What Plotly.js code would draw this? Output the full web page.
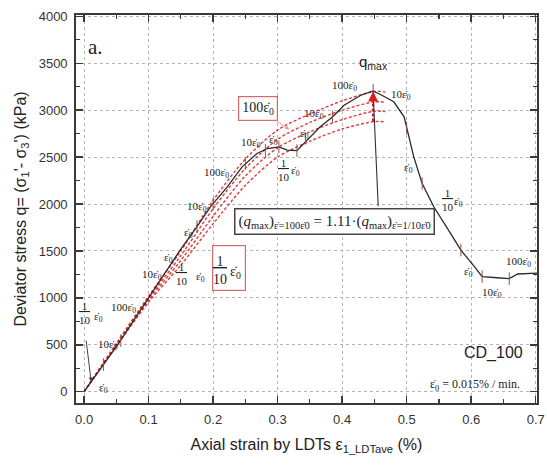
<!DOCTYPE html>
<html>
<head>
<meta charset="utf-8">
<script src="https://cdn.plot.ly/plotly-3.0.1.min.js"></script>
<style>html,body{margin:0;padding:0;background:#fff;}#chart{width:547px;height:468px;}</style>
</head>
<body>
<div id="chart"></div>
<script>
// Measured curve (black)
const strainMain = [0, 0.01, 0.03, 0.052, 0.1, 0.148, 0.175, 0.197, 0.222, 0.245, 0.268, 0.284, 0.302, 0.315, 0.33, 0.346, 0.366, 0.385, 0.403, 0.429, 0.448, 0.46, 0.48, 0.496, 0.501, 0.511, 0.524, 0.542, 0.568, 0.584, 0.605, 0.617, 0.64, 0.659, 0.672, 0.685, 0.703];
const stressMain = [0, 96, 290, 500, 1000, 1500, 1760, 1980, 2184, 2397, 2539, 2592, 2610, 2574, 2570, 2681, 2823, 2929, 3053, 3160, 3205, 3165, 3090, 2930, 2790, 2503, 2220, 1971, 1688, 1510, 1333, 1227, 1215, 1205, 1255, 1262, 1265];
// Rate-change marks on the measured curve
const strainMarks = [0.03, 0.057, 0.175, 0.2, 0.25, 0.281, 0.302, 0.33, 0.343, 0.385, 0.448, 0.5, 0.524, 0.584, 0.617, 0.659];
const stressMarks = [290, 545, 1760, 2000, 2430, 2574, 2610, 2570, 2700, 2929, 3215, 2810, 2220, 1510, 1227, 1205];
// Estimated curves for each strain rate (red dashed)
const strainRed = [0, 0.05, 0.1, 0.15, 0.2, 0.25, 0.3, 0.35, 0.4, 0.45, 0.467];
const stress100 = [0, 515, 1020, 1500, 2040, 2480, 2790, 2960, 3100, 3200, 3195];
const stress10  = [0, 505, 995, 1450, 1950, 2380, 2690, 2870, 3000, 3090, 3085];
const stress1   = [0, 495, 975, 1400, 1870, 2300, 2600, 2770, 2900, 2990, 2985];
const stress01  = [0, 485, 955, 1350, 1790, 2200, 2500, 2670, 2800, 2880, 2875];
// qmax comparison arrow
const qmaxStrain = [0.448, 0.448];
const qmaxRange = [2880, 3170];

const ed = '\u03b5\u0307<sub>0</sub>';
const frac = '<span style="text-decoration:underline">\u00a01\u00a0</span><br>10';
const serif = 'Liberation Serif, Times New Roman, serif';
const sans = 'Liberation Sans, Arial, sans-serif';

const redStyle = {color: 'rgba(220,40,40,0.9)', width: 1.4, dash: '3px,2px', shape: 'spline', smoothing: 0.8};
const traces = [
  {x: strainRed, y: stress100, mode: 'lines', line: redStyle, hoverinfo: 'skip'},
  {x: strainRed, y: stress10, mode: 'lines', line: redStyle, hoverinfo: 'skip'},
  {x: strainRed, y: stress1, mode: 'lines', line: redStyle, hoverinfo: 'skip'},
  {x: strainRed, y: stress01, mode: 'lines', line: redStyle, hoverinfo: 'skip'},
  {x: strainMain, y: stressMain, mode: 'lines', line: {color: '#2a2a2a', width: 1.3}, hoverinfo: 'skip'},
  {x: strainMarks, y: stressMarks, mode: 'markers', marker: {symbol: 'line-ns-open', size: 9, line: {color: '#333', width: 1}}, hoverinfo: 'skip'},
  {x: qmaxStrain, y: qmaxRange, mode: 'lines', line: {color: '#dd1c1c', width: 2.2, dash: '3px,2px'}, hoverinfo: 'skip'}
];

function lab(x, y, t, size, font, extra) {
  return Object.assign({x: x, y: y, text: t, showarrow: false, font: {family: font || serif, size: size || 11, color: '#222'}}, extra || {});
}

const annotations = [
  lab(0.018, 3676, 'a.', 21),
  lab(0.03, 43, ed),
  lab(0.037, 500, '10' + ed),
  lab(0.001, 840, frac, 11, serif, {align: 'center'}),
  lab(0.022, 800, ed),
  lab(0.061, 894, '100' + ed),
  lab(0.105, 1245, '10' + ed),
  lab(0.131, 1425, ed),
  lab(0.152, 1255, frac, 11, serif, {align: 'center'}),
  lab(0.18, 1225, ed),
  lab(0.162, 1690, ed),
  lab(0.175, 1970, '10' + ed),
  lab(0.205, 2330, '100' + ed),
  lab(0.258, 2650, '10' + ed),
  lab(0.294, 2685, ed),
  lab(0.31, 2360, frac, 11, serif, {align: 'center'}),
  lab(0.328, 2355, ed),
  lab(0.341, 2750, ed),
  lab(0.356, 2965, '10' + ed),
  lab(0.403, 3255, '100' + ed),
  lab(0.491, 3160, '10' + ed),
  lab(0.503, 2380, ed),
  lab(0.564, 2040, frac, 11, serif, {align: 'center'}),
  lab(0.581, 2024, ed),
  lab(0.596, 1280, ed),
  lab(0.633, 1050, '10' + ed),
  lab(0.674, 1383, '100' + ed),
  lab(0.449, 3510, 'q<sub>max</sub>', 15, sans),
  lab(0.634, 415, 'CD_100', 16, sans),
  lab(0.606, 75, ed + ' = 0.015% / min.', 12),
  // red boxed labels
  {x: 0.318, y: 2795, ax: 0.269, ay: 3021, axref: 'x', ayref: 'y', text: '100' + ed, showarrow: true,
   arrowhead: 2, arrowsize: 0.8, arrowwidth: 1, arrowcolor: '#e59a9a',
   font: {family: serif, size: 14, color: '#222'}, bordercolor: '#d46a6a', borderwidth: 1.2, borderpad: 3, bgcolor: '#fff'},
  {x: 0.224, y: 1314, text: ' ', showarrow: false, width: 30, height: 42, borderpad: 1,
   bordercolor: '#d46a6a', borderwidth: 1.2, bgcolor: '#fff', font: {size: 10}},
  lab(0.211, 1287, frac, 14, serif, {align: 'center'}),
  lab(0.235, 1266, ed, 14),
  // black boxed equation
  {x: 0.388, y: 1819, text: '(<i>q</i><sub>max</sub>)<sub>\u03b5\u0307=100\u03b5\u03070</sub> = 1.11\u00b7(<i>q</i><sub>max</sub>)<sub>\u03b5\u0307=1/10\u03b5\u03070</sub>',
   showarrow: false, font: {family: serif, size: 15, color: '#222'}, bordercolor: '#444', borderwidth: 1.5, borderpad: 3, bgcolor: '#fff'},
  // connector lines
  {x: 0.448, y: 3195, ax: 0.456, ay: 1960, axref: 'x', ayref: 'y', text: '', showarrow: true, arrowhead: 0, arrowwidth: 1.1, arrowcolor: '#333'},
  {x: 0.448, y: 3200, ax: 0.448, ay: 3100, axref: 'x', ayref: 'y', text: '', showarrow: true, arrowhead: 2, arrowsize: 1, arrowwidth: 2, arrowcolor: '#dd1c1c'},
  {x: 0.011, y: 110, ax: 0.003, ay: 560, axref: 'x', ayref: 'y', text: '', showarrow: true, arrowhead: 2, arrowsize: 0.8, arrowwidth: 1, arrowcolor: '#444'}
];

const axisCommon = {
  showline: true, linecolor: '#3a3a3a', linewidth: 1.8, mirror: 'ticks',
  ticks: 'inside', ticklen: 7, tickwidth: 1.5, tickcolor: '#3a3a3a',
  showgrid: true, gridcolor: '#b5b5b5', griddash: 'dot', gridwidth: 1,
  zeroline: false, tickfont: {family: sans, size: 13, color: '#333'}
};

const layout = {
  width: 547, height: 468,
  margin: {l: 76, r: 10, t: 15, b: 65},
  paper_bgcolor: '#fff', plot_bgcolor: '#fff',
  showlegend: false,
  xaxis: Object.assign({}, axisCommon, {
    range: [-0.0125, 0.702], tickvals: [0, 0.1, 0.2, 0.3, 0.4, 0.5, 0.6, 0.7],
    ticktext: ['0.0', '0.1', '0.2', '0.3', '0.4', '0.5', '0.6', '0.7'],
    minor: {ticks: 'inside', ticklen: 4, tickwidth: 1.2, tickcolor: '#3a3a3a', dtick: 0.05, tick0: 0, showgrid: false},
    ticklabelstandoff: 4,
    title: {text: 'Axial strain by LDTs \u03b5<sub>1_LDTave</sub> (%)', font: {family: sans, size: 16, color: '#222'}, standoff: 12}
  }),
  yaxis: Object.assign({}, axisCommon, {
    range: [-120, 4015], tickvals: [0, 500, 1000, 1500, 2000, 2500, 3000, 3500, 4000],
    minor: {ticks: 'inside', ticklen: 4, tickwidth: 1.2, tickcolor: '#3a3a3a', dtick: 250, tick0: 0, showgrid: false},
    ticklabelstandoff: 4,
    title: {text: "Deviator stress q= (\u03c3<sub>1</sub>'- \u03c3<sub>3</sub>') (kPa)", font: {family: sans, size: 16, color: '#222'}, standoff: 8}
  }),
  annotations: annotations
};

Plotly.newPlot('chart', traces, layout, {displayModeBar: false, staticPlot: true});
</script>
</body>
</html>
